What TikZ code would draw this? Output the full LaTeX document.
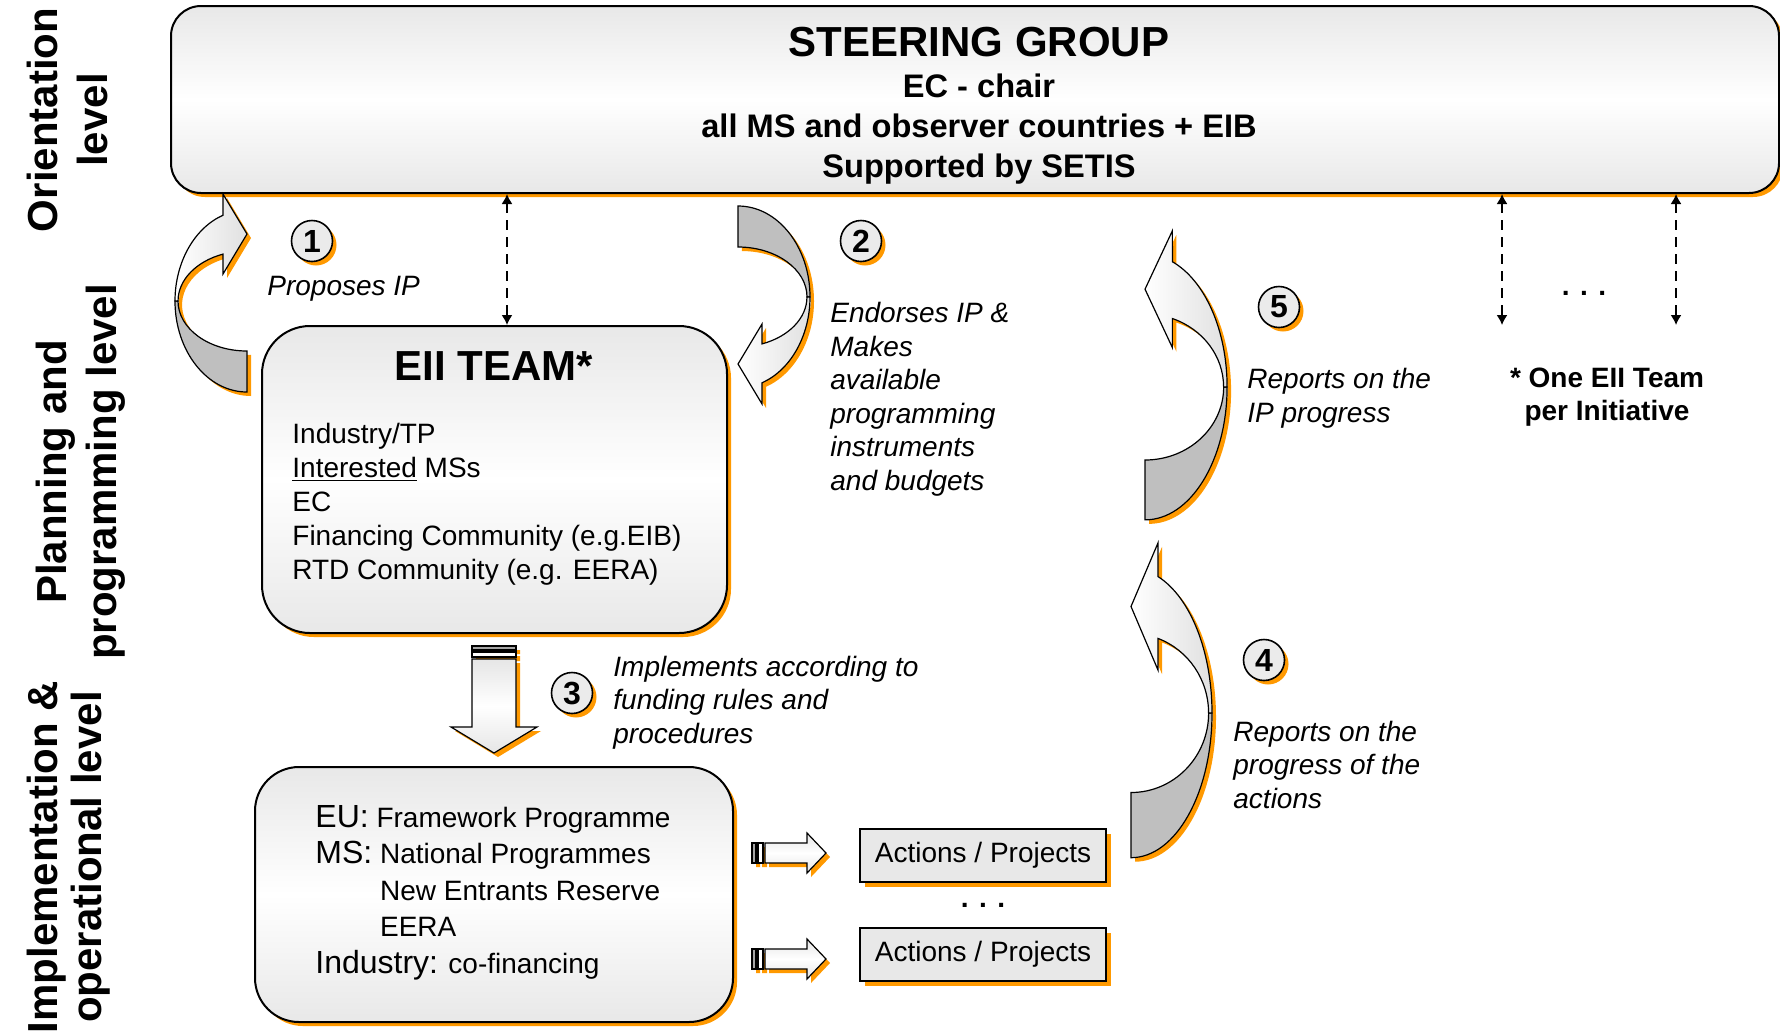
\documentclass[tikz,border=0pt]{standalone}
\usepackage{fontspec}
\setmainfont{Liberation Sans}
\usetikzlibrary{arrows.meta,positioning,calc,shadows}
\definecolor{shadowOrange}{RGB}{255,153,0}
\definecolor{paleGray}{RGB}{232,232,232}
\definecolor{backGray}{RGB}{191,191,191}

\newcommand{\opkey}[1]{{\fontsize{16}{18.25}\selectfont #1}}

% curved ribbon arrow: tail on top, bulging right, head at the bottom pointing left
\newcommand{\ribbonarrow}[1]{%
  \begin{scope}[shift={(4,4)},#1]
    \fill[shadowOrange] (0,-91) arc[start angle=-90,end angle=70.5,x radius=72,y radius=91]
      -- (24,107) -- (0,67) -- (24,27) -- (24,46.9)
      arc[start angle=69.6,end angle=-90,x radius=69,y radius=50] -- cycle;
  \end{scope}
  \begin{scope}[#1]
    \draw[ribbon back] (0,-91) arc[start angle=-90,end angle=0,x radius=72,y radius=91]
      -- (69,0) arc[start angle=0,end angle=-90,x radius=69,y radius=50] -- cycle;
    \draw[ribbon front] (72,0) arc[start angle=0,end angle=70.5,x radius=72,y radius=91]
      -- (24,107) -- (0,67) -- (24,27) -- (24,46.9)
      arc[start angle=69.6,end angle=0,x radius=69,y radius=50] -- cycle;
  \end{scope}}

% striped block arrow pointing right: #2 shaft half width, #3 shaft end, #4 head half width, #5 tip
\newcommand{\stripedarrow}[5]{%
  \begin{scope}[shift={(4,4)},#1]
    \fill[shadowOrange] (0,-#2) rectangle (4,#2) (6,-#2) rectangle (11,#2)
      (13,-#2) -- (#3,-#2) -- (#3,-#4) -- (#5,0) -- (#3,#4) -- (#3,#2) -- (13,#2) -- cycle;
  \end{scope}
  \begin{scope}[#1]
    \draw[block edge,fill=black!35] (0,-#2) rectangle (4,#2);
    \draw[block edge,fill=white] (6,-#2) rectangle (11,#2);
    \draw[block edge,block fill] (13,-#2) -- (#3,-#2) -- (#3,-#4) -- (#5,0) -- (#3,#4) -- (#3,#2) -- (13,#2) -- cycle;
  \end{scope}}

\begin{document}
\begin{tikzpicture}[x=0.5pt,y=-0.5pt,
    panel/.style={draw,line width=1pt,top color=paleGray,bottom color=paleGray,middle color=white,
      drop shadow={shadow xshift=2pt,shadow yshift=-2pt,fill=shadowOrange,opacity=1}},
    actbox/.style={draw,line width=1pt,fill=paleGray,minimum width=123pt,minimum height=26.5pt,
      font=\fontsize{14}{17}\selectfont,
      drop shadow={shadow xshift=2.5pt,shadow yshift=-2.5pt,fill=shadowOrange,opacity=1}},
    num/.style={circle,draw,line width=0.8pt,fill=black!8,minimum size=20.5pt,inner sep=0pt,
      font=\fontsize{16}{16}\selectfont\bfseries,
      drop shadow={shadow xshift=2pt,shadow yshift=-2pt,fill=shadowOrange,opacity=1}},
    note/.style={anchor=base west,align=left,inner sep=0pt,font=\fontsize{14}{16.75}\selectfont\itshape},
    level/.style={rotate=90,align=center,font=\fontsize{21}{25}\selectfont\bfseries},
    link/.style={{Latex[length=5pt,width=5.5pt]}-{Latex[length=5pt,width=5.5pt]},
      dash pattern=on 5pt off 3.5pt,line width=0.8pt},
    ribbon back/.style={fill=backGray,line width=0.6pt},
    ribbon front/.style={left color=white,right color=black!12,line width=0.6pt},
    block edge/.style={line width=0.6pt},
    block fill/.style={top color=black!10,bottom color=black!10,middle color=white}
  ]
  \useasboundingbox (0,0) rectangle (1780,1034);

  % levels
  \node[level] (orient) at (67,120) {Orientation\\level};
  \node[level] (plan) at (81,472) {Planning and\\programming level};
  \node[level,font=\fontsize{21}{22}\selectfont\bfseries] (implvl) at (69,857) {Implementation \&\\operational level};

  % boxes (multi-line texts are placed by the baseline of their last line)
  \node[panel,rounded corners=15pt,minimum width=804pt,minimum height=93.5pt] (steer) at (975,99.5) {};
  \node[anchor=base,font=\fontsize{21}{24}\selectfont\bfseries] (steertitle) at (979,56) {STEERING GROUP};
  \node[anchor=base,align=center,font=\fontsize{16.3}{20}\selectfont\bfseries] (steermembers) at (979,177)
    {EC - chair\\all MS and observer countries + EIB\\Supported by SETIS};

  \node[panel,rounded corners=24pt,minimum width=232.5pt,minimum height=153.5pt] (team) at (494.5,479.5) {};
  \node[anchor=base,font=\fontsize{21}{24}\selectfont\bfseries] (teamtitle) at (494,380) {EII TEAM*};
  \node[anchor=base west,align=left,inner sep=0pt,font=\fontsize{14}{17}\selectfont] (teamlist) at (292,579)
    {Industry/TP\\\underline{Interested} MSs\\EC\\Financing Community (e.g.EIB)\\RTD Community (e.g. EERA)};

  \node[panel,rounded corners=22pt,minimum width=239pt,minimum height=127.5pt] (ops) at (494,894.5) {};
  \node[anchor=base west,align=left,inner sep=0pt,font=\fontsize{14}{18.25}\selectfont] (opslist) at (315,973)
    {\opkey{EU:} Framework Programme\\
     \opkey{MS:} National Programmes\\
     \phantom{\opkey{MS:} }New Entrants Reserve\\
     \phantom{\opkey{MS:} }EERA\\
     \opkey{Industry:} co-financing};

  \node[actbox] (act1) at (983,855.5) {Actions / Projects};
  \node[actbox,below=22pt of act1] (act2) {Actions / Projects};
  \node[font=\fontsize{14}{14}\selectfont\bfseries] (actdots) at ($(act1.south)!0.5!(act2.north)$) {. . .};

  % dashed links to the steering group
  \coordinate (team1) at ([xshift=6.25pt]team.north);
  \coordinate (team2) at (1502,325);
  \coordinate (team3) at (1676,325);
  \foreach \t in {team1,team2,team3}
    \draw[link] (steer.south -| \t) -- (\t);
  \node[font=\fontsize{14}{14}\selectfont\bfseries] (moredots) at (1584,293) {. . .};
  \node[anchor=base,align=center,font=\fontsize{14}{16.5}\selectfont\bfseries] (perteam) at (1607,420)
    {* One EII Team\\per Initiative};

  % curved arrows
  \ribbonarrow{shift={(247,301)},xscale=-1,yscale=-1}
  \ribbonarrow{shift={(738,297)}}
  \ribbonarrow{shift={(1131,713)},xscale=1.125,yscale=-1.59}
  \ribbonarrow{shift={(1145,387)},xscale=1.14,yscale=-1.46}

  % block arrows
  \stripedarrow{shift={(494,646)},rotate=-90}{22}{81}{43}{107}
  \stripedarrow{shift={(752,853)}}{10}{55}{20}{74}
  \stripedarrow{shift={(752,959)}}{10}{55}{20}{74}

  % steps
  \node[num] (num1) at (312,241) {1};
  \node[num] (num2) at (861,241) {2};
  \node[num] (num3) at (572,693) {3};
  \node[num] (num4) at (1264,660) {4};
  \node[num] (num5) at (1279,307) {5};

  \node[note] (propose) at (267,295) {Proposes IP};
  \node[note] (endorse) at (830,490) {Endorses IP \&\\Makes\\available\\programming\\instruments\\and budgets};
  \node[note] (implement) at (613,743) {Implements according to\\funding rules and\\procedures};
  \node[note] (reportacts) at (1233,808) {Reports on the\\progress of the\\actions};
  \node[note] (reportip) at (1247,422) {Reports on the\\IP progress};
\end{tikzpicture}
\end{document}
